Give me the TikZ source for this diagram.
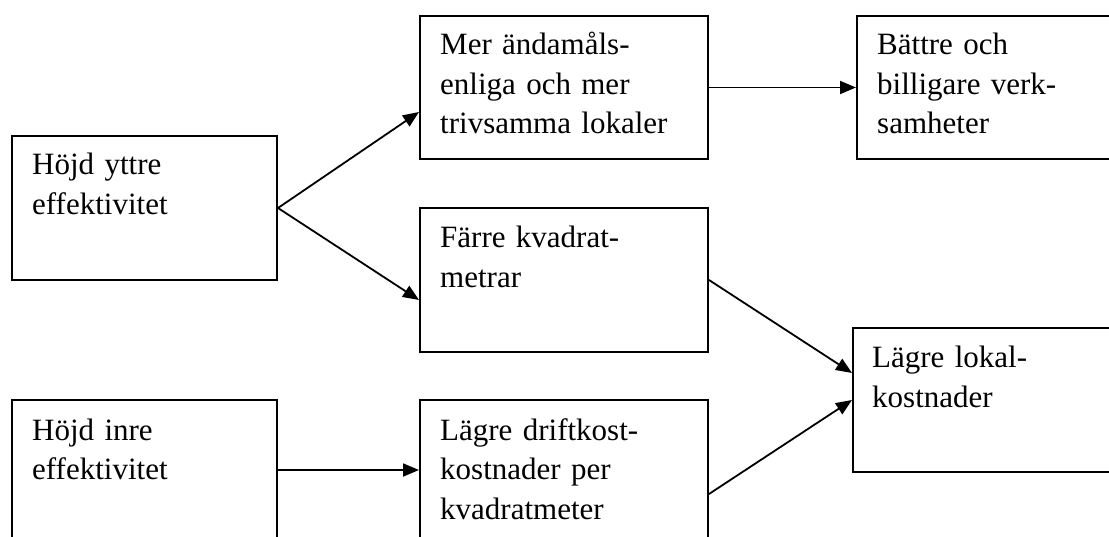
\documentclass[tikz,border=0pt]{standalone}
\usepackage{fontspec}
\setmainfont{Liberation Serif}
\usetikzlibrary{arrows.meta,calc}
\begin{document}
\begin{tikzpicture}[x=1pt,y=-1pt,
  box/.style={draw=black,line width=2pt,rectangle,inner sep=0pt,anchor=north west},
  lbl/.style={anchor=base west,inner sep=0pt,text width=260pt,align=left,
    font=\fontsize{31}{39.5}\selectfont},
  arr/.style={line width=1.8pt,-{Triangle[length=16pt,width=13pt]}}]
\useasboundingbox (0,0) rectangle (1109,537);
\clip (0,0) rectangle (1109,537);
% boxes
\node[box,minimum width=265pt,minimum height=144pt] (b1) at (11,135) {};
\node[box,minimum width=288pt,minimum height=143pt] (b2) at (419,15) {};
\node[box,minimum width=280pt,minimum height=143pt] (b3) at (856,15) {};
\node[box,minimum width=288pt,minimum height=144pt] (b4) at (419,207) {};
\node[box,minimum width=280pt,minimum height=144pt] (b5) at (852,327) {};
\node[box,minimum width=265pt,minimum height=180pt] (b6) at (11,399) {};
\node[box,minimum width=288pt,minimum height=180pt] (b7) at (419,399) {};
% texts
\node[lbl] (t1) at (32,175) {Höjd yttre\\effektivitet};
\node[lbl] (t2) at (440,55) {Mer ändamåls-\\enliga och mer\\trivsamma lokaler};
\node[lbl] (t3) at (877,55) {Bättre och\\billigare verk-\\samheter};
\node[lbl] (t4) at (440,248) {Färre kvadrat-\\metrar};
\node[lbl] (t5) at (872,368) {Lägre lokal-\\kostnader};
\node[lbl] (t6) at (32,440) {Höjd inre\\effektivitet};
\node[lbl] (t7) at (440,440) {Lägre driftkost-\\kostnader per\\kvadratmeter};
% connectors
\coordinate (b1e) at (b1.east);
\draw[arr] (b1e) -- ($(b2.north west)+(0,97)$);
\draw[arr] (b1e) -- ($(b4.north west)+(0,93)$);
\draw[arr] (b2.east) -- (b3.west);
\draw[arr] (b4.east) -- ($(b5.north west)+(0,46)$);
\draw[arr] ($(b7.north east)+(0,95)$) -- ($(b5.north west)+(0,73)$);
\draw[arr] ($(b6.north east)+(0,71)$) -- ($(b7.north west)+(0,71)$);
\end{tikzpicture}
\end{document}
